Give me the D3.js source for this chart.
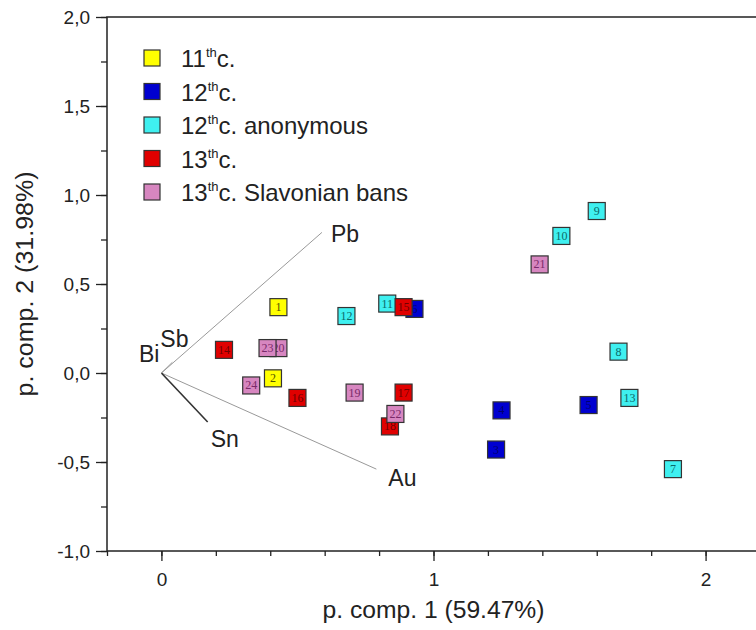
<!DOCTYPE html>
<meta charset="utf-8">
<style>
  body { margin: 0; background: #fff; }
</style>
<body>
<script src="https://d3js.org/d3.v7.min.js"></script>
<script>

// sample groups (legend)
var groups = ["11", "12", "12a", "13", "13s"];
var groupLabels = [["11", "c."], ["12", "c."], ["12", "c. anonymous"], ["13", "c."], ["13", "c. Slavonian bans"]];
var groupFill = ["#ffff00", "#0000d0", "#3ff0f0", "#e00000", "#d786c0"];
var groupText = ["#555500", "#000070", "#0b6a6a", "#700000", "#7a2a6a"];

// samples: id, group, scores
var sampleId = [1, 2, 3, 4, 5, 6, 7, 8, 9, 10, 11, 12, 13, 14, 15, 16, 17, 18, 19, 20, 21, 22, 23, 24];
var sampleGroup = ["11", "11", "12", "12", "12", "12", "12a", "12a", "12a", "12a", "12a", "12a", "12a",
                   "13", "13", "13", "13", "13", "13s", "13s", "13s", "13s", "13s", "13s"];
var pc1 = [0.43, 0.41, 1.23, 1.25, 1.57, 0.93, 1.88, 1.68, 1.60, 1.47, 0.83, 0.68, 1.72,
           0.23, 0.89, 0.50, 0.89, 0.84, 0.71, 0.43, 1.39, 0.86, 0.39, 0.33];
var pc2 = [0.37, -0.03, -0.43, -0.21, -0.18, 0.36, -0.54, 0.12, 0.91, 0.77, 0.39, 0.32, -0.14,
           0.13, 0.37, -0.14, -0.11, -0.30, -0.11, 0.14, 0.61, -0.23, 0.14, -0.07];

// element loadings
var elements = ["Pb", "Au", "Sn", "Sb", "Bi"];
var loadX = [0.59, 0.79, 0.17, 0.04, 0.0];
var loadY = [0.79, -0.54, -0.275, 0.06, 0.0];

// axis ticks
var xTicks = [0, 1, 2];
var yTicks = [-1, -0.5, 0, 0.5, 1, 1.5, 2];

var width = 756, height = 630;
var font = "Arial, 'Liberation Sans', sans-serif";
var svg = d3.select("body").append("svg")
    .attr("width", width)
    .attr("height", height)
    .style("font-family", font);

var x = d3.scaleLinear().domain([-0.2, 2.2]).range([107, 760]);
var y = d3.scaleLinear().domain([-1, 2]).range([551, 17]);

var fmt = function(d) { return d3.format(".1f")(d).replace(".", ",").replace("\u2212", "-"); };

// frame
svg.append("rect")
    .attr("x", x(-0.2)).attr("y", y(2))
    .attr("width", x(2.2) - x(-0.2)).attr("height", y(-1) - y(2))
    .attr("fill", "none").attr("stroke", "#222").attr("stroke-width", 1.5);

// x axis
var xAxis = svg.append("g").attr("transform", "translate(0," + y(-1) + ")");
xAxis.call(d3.axisBottom(x).tickValues(d3.range(-0.2, 2.21, 0.2)).tickSize(5).tickFormat(""));
xAxis.append("g").call(d3.axisBottom(x).tickValues(xTicks).tickSize(10).tickPadding(12).tickFormat(d3.format("d")));
xAxis.selectAll(".domain").remove();
xAxis.selectAll("line").attr("stroke", "#222").attr("stroke-width", 1.3);
xAxis.selectAll("text").style("font-size", "19px").style("font-family", font).attr("fill", "#222");

// y axis
var yAxis = svg.append("g").attr("transform", "translate(" + x(-0.2) + ",0)");
yAxis.call(d3.axisLeft(y).tickValues(d3.range(-1, 2.01, 0.25)).tickSize(6).tickFormat(""));
yAxis.append("g").call(d3.axisLeft(y).tickValues(yTicks).tickSize(11).tickPadding(6).tickFormat(fmt));
yAxis.selectAll(".domain").remove();
yAxis.selectAll("line").attr("stroke", "#222").attr("stroke-width", 1.3);
yAxis.selectAll("text").style("font-size", "19px").style("font-family", font).attr("fill", "#222");

// axis titles
svg.append("text")
    .attr("x", x(1)).attr("y", 618)
    .attr("text-anchor", "middle").style("font-size", "23px").attr("fill", "#222")
    .attr("textLength", 222).attr("lengthAdjust", "spacingAndGlyphs")
    .text("p. comp. 1 (59.47%)");
svg.append("text")
    .attr("transform", "translate(33," + y(0.5) + ") rotate(-90)")
    .attr("text-anchor", "middle").style("font-size", "23px").attr("fill", "#222")
    .attr("textLength", 225).attr("lengthAdjust", "spacingAndGlyphs")
    .text("p. comp. 2 (31.98%)");

// loading vectors
var labelOff = {Pb: [9, 10, "start"], Au: [12, 17, "start"], Sn: [3, 25, "start"], Sb: [-12, -15, "start"], Bi: [-2, -11, "end"]};
var vec = svg.append("g");
elements.forEach(function(e, i) {
  vec.append("line")
      .attr("x1", x(0)).attr("y1", y(0))
      .attr("x2", x(loadX[i])).attr("y2", y(loadY[i]))
      .attr("stroke", e == "Sn" ? "#333" : "#999")
      .attr("stroke-width", e == "Sn" ? 1.6 : 1);
  var o = labelOff[e];
  vec.append("text")
      .attr("x", x(loadX[i]) + o[0]).attr("y", y(loadY[i]) + o[1])
      .attr("text-anchor", o[2])
      .style("font-size", "23px").attr("fill", "#222")
      .text(e);
});

// sample squares
var s = 17;
var pts = svg.append("g").selectAll("g")
    .data(sampleId)
    .enter().append("g")
    .attr("transform", function(d, i) { return "translate(" + x(pc1[i]) + "," + y(pc2[i]) + ")"; });
pts.append("rect")
    .attr("x", -s / 2).attr("y", -s / 2).attr("width", s).attr("height", s)
    .attr("fill", function(d, i) { return groupFill[groups.indexOf(sampleGroup[i])]; })
    .attr("stroke", "#333").attr("stroke-width", 1.2);
pts.append("text")
    .attr("text-anchor", "middle").attr("y", 4)
    .style("font-family", "'Liberation Serif', 'Times New Roman', serif")
    .style("font-size", "12px")
    .attr("fill", function(d, i) { return groupText[groups.indexOf(sampleGroup[i])]; })
    .text(function(d) { return d; });

// legend
var leg = svg.append("g").selectAll("g")
    .data(groups)
    .enter().append("g")
    .attr("transform", function(d, i) { return "translate(152," + (58 + i * 33.5) + ")"; });
leg.append("rect")
    .attr("x", -8).attr("y", -8).attr("width", 16).attr("height", 16)
    .attr("fill", function(d, i) { return groupFill[i]; })
    .attr("stroke", "#333").attr("stroke-width", 1.2);
var lt = leg.append("text")
    .attr("x", 29).attr("y", 9)
    .style("font-size", "24px").attr("fill", "#222");
lt.append("tspan").text(function(d, i) { return groupLabels[i][0]; });
lt.append("tspan").style("font-size", "13px").attr("dy", -10).text("th");
lt.append("tspan").attr("dy", 10).text(function(d, i) { return groupLabels[i][1]; });

</script>
</body>
